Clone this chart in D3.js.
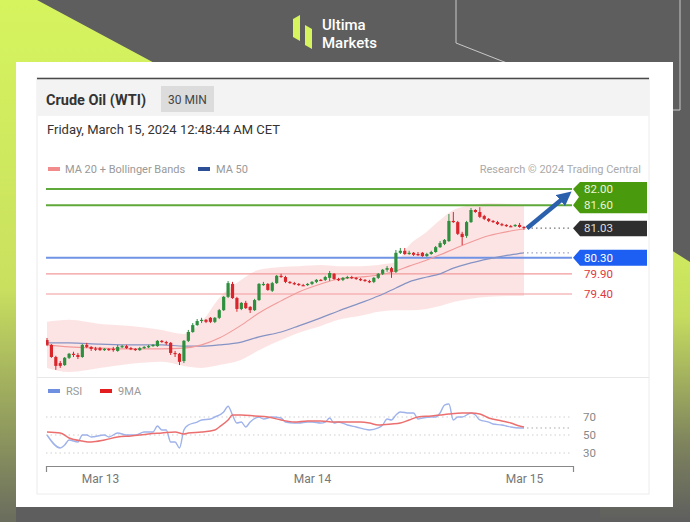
<!DOCTYPE html>
<html><head><meta charset="utf-8">
<script src="https://cdn.jsdelivr.net/npm/d3@7"></script>
<style>
html,body{margin:0;padding:0;background:#5e5e5e;}
svg{display:block;font-family:Roboto,"Liberation Sans",Arial,sans-serif;}
</style></head><body>
<svg id="c" width="690" height="522"></svg>
<script>
// ---------- DATA ----------
const firstCandle = new Date(2024, 2, 12, 18, 0); // 30-min candles
const opens = [
78.26,78.14,77.84,77.69,77.64,77.82,77.92,77.89,77.84,78.14,
78.09,78.05,78.06,78.01,78.04,78.04,77.99,78.09,78.11,78.06,
78.04,78.01,78.06,78.09,78.11,78.11,78.24,78.21,78.19,77.94,
77.92,77.74,78.24,78.46,78.63,78.73,78.76,78.81,78.71,78.81,
79.00,79.33,79.65,79.30,79.03,79.18,79.08,79.00,79.25,79.62,
79.65,79.48,79.67,79.85,79.82,79.70,79.67,79.65,79.62,79.62,
79.65,79.70,79.75,79.75,79.80,79.90,79.77,79.75,79.80,79.82,
79.80,79.77,79.75,79.72,79.70,79.80,79.90,80.00,80.04,79.95,
80.42,80.47,80.39,80.42,80.39,80.42,80.34,80.39,80.44,80.56,
80.64,80.71,81.21,81.18,80.89,80.84,81.18,81.48,81.43,81.33,
81.26,81.21,81.18,81.13,81.11,81.08,81.08,81.11,81.06];
const closes = [
78.14,77.84,77.62,77.62,77.82,77.92,77.89,77.84,78.14,78.09,
78.04,78.03,78.01,78.04,78.01,78.01,78.09,78.11,78.06,78.04,
78.03,78.06,78.09,78.11,78.14,78.24,78.21,78.19,77.94,77.92,
77.72,78.24,78.46,78.63,78.73,78.76,78.71,78.71,78.81,79.00,
79.33,79.67,79.30,79.03,79.18,79.05,79.00,79.25,79.65,79.65,
79.50,79.67,79.85,79.82,79.70,79.67,79.65,79.62,79.61,79.65,
79.70,79.75,79.74,79.82,79.92,79.77,79.75,79.80,79.82,79.80,
79.77,79.75,79.72,79.70,79.80,79.90,80.00,80.04,79.95,80.42,
80.47,80.39,80.42,80.37,80.38,80.34,80.39,80.44,80.56,80.66,
80.74,81.21,81.18,80.89,80.81,81.18,81.48,81.43,81.31,81.26,
81.21,81.18,81.13,81.11,81.08,81.07,81.11,81.06,81.03];
const highs = [
78.31,78.16,77.87,77.74,77.84,77.94,77.97,77.94,78.16,78.19,
78.11,78.09,78.09,78.06,78.06,78.09,78.14,78.14,78.14,78.09,
78.06,78.09,78.11,78.14,78.16,78.26,78.26,78.24,78.21,77.99,
77.94,78.26,78.51,78.68,78.78,78.81,78.78,78.83,78.83,79.03,
79.35,79.72,79.70,79.33,79.20,79.23,79.10,79.28,79.67,79.70,
79.67,79.70,79.87,79.90,79.85,79.72,79.70,79.67,79.65,79.67,
79.72,79.77,79.77,79.85,79.97,79.92,79.80,79.82,79.85,79.85,
79.82,79.80,79.77,79.75,79.82,79.92,80.02,80.09,80.07,80.49,
80.54,80.54,80.47,80.44,80.44,80.44,80.42,80.47,80.59,80.71,
80.76,81.38,81.43,81.21,80.94,81.21,81.53,81.50,81.55,81.36,
81.28,81.23,81.21,81.16,81.13,81.11,81.13,81.16,81.08];
const lows = [
78.11,77.82,77.52,77.57,77.62,77.79,77.84,77.79,77.82,78.06,
77.99,77.99,77.99,77.99,77.99,77.97,77.97,78.06,78.04,78.01,
77.99,77.99,78.04,78.06,78.09,78.09,78.19,78.14,77.89,77.84,
77.64,77.69,78.21,78.44,78.61,78.68,78.68,78.68,78.68,78.78,
78.98,79.30,79.28,78.96,79.00,79.03,78.93,78.98,79.23,79.60,
79.48,79.45,79.65,79.80,79.67,79.65,79.62,79.60,79.60,79.60,
79.62,79.67,79.72,79.72,79.72,79.75,79.72,79.72,79.77,79.77,
79.75,79.72,79.70,79.67,79.67,79.77,79.87,79.95,79.80,79.92,
80.39,80.37,80.37,80.34,80.34,80.32,80.32,80.37,80.42,80.54,
80.61,80.69,81.16,80.86,80.61,80.79,81.16,81.41,81.28,81.23,
81.18,81.16,81.11,81.08,81.06,81.06,81.06,81.04,80.99];

// overlay indicators sampled at candle indices
const bandIdx = [0,5,12,19,26,31,35,39,44,48,53,57,62,66,71,75,79,82,86,89,92,96,100,105,108];
const bbUpper = [78.71,78.76,78.66,78.61,78.51,78.41,78.71,79.30,79.75,80.00,80.07,80.09,80.12,80.09,80.09,80.12,80.19,80.61,80.94,81.23,81.48,81.60,81.65,81.63,81.58];
const bbLower = [77.57,77.47,77.57,77.67,77.72,77.62,77.57,77.64,77.77,78.01,78.26,78.44,78.61,78.76,78.86,78.96,79.00,79.00,79.03,79.10,79.20,79.28,79.33,79.35,79.35];
const ma20 = [78.14,78.09,78.06,78.04,78.04,78.06,78.14,78.31,78.63,78.93,79.23,79.45,79.65,79.77,79.82,79.87,79.97,80.09,80.24,80.37,80.51,80.69,80.84,80.96,81.01];
const ma50 = [78.19,78.19,78.16,78.14,78.14,78.11,78.11,78.14,78.21,78.34,78.46,78.61,78.81,78.98,79.18,79.35,79.55,79.70,79.82,79.90,80.04,80.17,80.27,80.37,80.42];

// RSI panel
const rsiIdx = [0,3,4,5,7,8,9,10,13,14,16,18,20,22,24,25,26,27,28,29,30,31,32,34,35,37,38,40,41,42,43,44,45,46,48,49,51,53,54,56,57,59,60,62,63,64,65,66,68,70,73,75,76,77,78,79,80,82,83,84,85,87,88,89,90,91,92,93,94,96,97,98,100,101,103,104,105,107,108];
const rsi = [50,35.6,38.9,44.4,42.2,50,50,47.8,50,47.8,52.2,50,50,53.3,53.3,60,55.6,55.6,42.2,42.2,35.6,55.6,61.1,64.4,66.7,67.8,70,75.6,82,72.2,63.3,64.4,58.9,64.4,70,67.8,70,68.9,64.4,63.3,63.3,64.4,64.4,63.3,64.4,68.9,63.3,64.4,61.1,58.9,55.6,57.8,61.1,67.8,66.7,72.2,75.6,74.4,74.4,67.8,68.9,70,70,74.4,83.3,84.4,66.7,70,70,74.4,72.2,66.7,64.4,62.2,61.1,60,58.9,57.8,57.8];
const maIdx = [0,3,5,8,10,13,16,19,23,26,29,31,32,35,38,39,41,42,44,47,50,53,56,59,62,65,68,71,73,75,78,80,82,84,87,89,91,94,96,98,100,103,105,107,108];
const rsiMA = [53.3,52.2,46.7,43.3,42.2,44.4,47.8,48.9,51.1,52.2,53.3,51.1,52.2,53.3,55.6,58.9,66.7,72.2,72.2,71.1,70,66.7,64.4,65.6,65.6,64.4,64.4,64.4,63.3,61.1,62.2,63.3,66.7,70,71.1,72.2,73.3,74.4,74.4,73.3,68.9,65.6,63.3,60,58.9];

// levels
const resistLevels = [82.00, 81.60];
const supportLevels = [79.90, 79.40];
const pivotLevel = 80.30;
const lastPrice = 81.03;
const rsiTicks = [70, 50, 30];
const dayTicks = [new Date(2024,2,13), new Date(2024,2,14), new Date(2024,2,15)];
const arrowTarget = 82.00;

// ---------- DRAW ----------
const svg = d3.select('#c');
const defs = svg.append('defs');
const gR = defs.append('linearGradient').attr('id','gR').attr('x1',0).attr('y1',0).attr('x2',0).attr('y2',1);
gR.append('stop').attr('offset','0%').attr('stop-color','#d6f45e');
gR.append('stop').attr('offset','35%').attr('stop-color','#c5dc5f');
gR.append('stop').attr('offset','75%').attr('stop-color','#7f845d');
gR.append('stop').attr('offset','100%').attr('stop-color','#5e5e5e');
const gL = defs.append('linearGradient').attr('id','gL').attr('x1',0).attr('y1',0).attr('x2',0).attr('y2',1);
gL.append('stop').attr('offset','0%').attr('stop-color','#d6f45e');
gL.append('stop').attr('offset','55%').attr('stop-color','#c9e05f');
gL.append('stop').attr('offset','100%').attr('stop-color','#6a6c5d');

svg.append('rect').attr('width',690).attr('height',522).attr('fill','#5e5e5e');
svg.append('polygon').attr('points','0,0 37,0 160,66 16,66 16,522 0,522').attr('fill','url(#gL)');
svg.append('polygon').attr('points','600,205 690,262 690,522 600,522').attr('fill','url(#gR)');
// decorative outlines
svg.append('polyline').attr('points','456,0 456,43 540,76').attr('fill','none').attr('stroke','#c8c8c8').attr('stroke-width',1);
svg.append('polyline').attr('points','680,0 680,110 672,110').attr('fill','none').attr('stroke','#c8c8c8').attr('stroke-width',1);

// logo
const logo = svg.append('g');
logo.append('polygon').attr('points','293,19 300,15 300,41 293,37').attr('fill','#d6f45e');
logo.append('polygon').attr('points','305,25 312,29 312,49 305,45').attr('fill','#d6f45e');
logo.append('text').attr('x',322).attr('y',30).attr('fill','#fff').attr('font-size',15).attr('font-weight',500).text('Ultima');
logo.append('text').attr('x',322).attr('y',48).attr('fill','#fff').attr('font-size',15).attr('font-weight',500).text('Markets');

// white panel & card
svg.append('rect').attr('x',16).attr('y',62).attr('width',657).attr('height',445).attr('fill','#fff');
svg.append('rect').attr('x',37).attr('y',78).attr('width',612).attr('height',416).attr('fill','#fff').attr('stroke','#ececec');
svg.append('rect').attr('x',37).attr('y',79).attr('width',612).attr('height',37).attr('fill','#f3f3f3');
svg.append('line').attr('x1',37).attr('x2',649).attr('y1',78.5).attr('y2',78.5).attr('stroke','#4a4a4a').attr('stroke-width',1.5);
svg.append('text').attr('x',46).attr('y',105).attr('font-size',14.5).attr('font-weight',700).attr('fill','#333').text('Crude Oil (WTI)');
svg.append('rect').attr('x',161).attr('y',86).attr('width',53).attr('height',26).attr('fill','#dcdcdc');
svg.append('text').attr('x',187.5).attr('y',104).attr('text-anchor','middle').attr('font-size',12).attr('fill','#444').text('30 MIN');
svg.append('text').attr('x',47).attr('y',134).attr('font-size',13).attr('fill','#333').text('Friday, March 15, 2024 12:48:44 AM CET');

// legend
svg.append('rect').attr('x',48).attr('y',167).attr('width',12).attr('height',4).attr('fill','#f28b8b');
svg.append('text').attr('x',65).attr('y',173).attr('font-size',11).attr('fill','#999').text('MA 20 + Bollinger Bands');
svg.append('rect').attr('x',198).attr('y',167).attr('width',12).attr('height',4).attr('fill','#2d4f96');
svg.append('text').attr('x',216).attr('y',173).attr('font-size',11).attr('fill','#999').text('MA 50');
svg.append('text').attr('x',641).attr('y',173).attr('text-anchor','end').attr('font-size',11).attr('fill','#aaa').text('Research \u00a9 2024 Trading Central');

// separator main / rsi
svg.append('line').attr('x1',37).attr('x2',649).attr('y1',377.5).attr('y2',377.5).attr('stroke','#e8e8e8');

// scales
const tAt = i => d3.timeMinute.offset(firstCandle, 30*i);
const x = d3.scaleTime().domain([new Date(2024,2,13), new Date(2024,2,15)]).range([100,524]);
const y = d3.scaleLinear().domain([79.40, 82.00]).range([294, 189]);
const yr = d3.scaleLinear().domain([30,70]).range([453,417]);
const X0 = 46, X1 = 572;

defs.append('clipPath').attr('id','clipMain').append('rect').attr('x',X0).attr('y',150).attr('width',X1-X0).attr('height',226);
const main = svg.append('g').attr('clip-path','url(#clipMain)');

// bollinger band
const bandData = bandIdx.map((k,j)=>({t:tAt(k), u:bbUpper[j], l:bbLower[j], m20:ma20[j], m50:ma50[j]}));
main.append('path').datum(bandData)
  .attr('d', d3.area().curve(d3.curveMonotoneX).x(d=>x(d.t)).y0(d=>y(d.l)).y1(d=>y(d.u)))
  .attr('fill','#f7b3b3').attr('fill-opacity',0.36);

// level lines
resistLevels.forEach(v=>{
  main.append('line').attr('x1',X0).attr('x2',X1).attr('y1',y(v)).attr('y2',y(v)).attr('stroke','#5fa83a').attr('stroke-width',2);
});
main.append('line').attr('x1',X0).attr('x2',X1).attr('y1',y(pivotLevel)).attr('y2',y(pivotLevel)).attr('stroke','#7193e6').attr('stroke-width',2);
supportLevels.forEach(v=>{
  main.append('line').attr('x1',X0).attr('x2',X1).attr('y1',y(v)).attr('y2',y(v)).attr('stroke','#f29a9a').attr('stroke-width',1.2);
});

// MAs
main.append('path').datum(bandData).attr('d', d3.line().curve(d3.curveMonotoneX).x(d=>x(d.t)).y(d=>y(d.m50)))
  .attr('fill','none').attr('stroke','#8593c4').attr('stroke-width',1.2);
main.append('path').datum(bandData).attr('d', d3.line().curve(d3.curveMonotoneX).x(d=>x(d.t)).y(d=>y(d.m20)))
  .attr('fill','none').attr('stroke','#f29a9a').attr('stroke-width',1.1);

// candles
const candles = opens.map((o,i)=>({t:tAt(i), o, c:closes[i], h:highs[i], l:lows[i]}));
const cg = main.append('g');
candles.forEach(d=>{
  const up = d.c >= d.o;
  const col = up ? '#2e8f3e' : '#d9262c';
  const cx = x(d.t);
  cg.append('line').attr('x1',cx).attr('x2',cx).attr('y1',y(d.h)).attr('y2',y(d.l)).attr('stroke',col).attr('stroke-width',1);
  const top = y(Math.max(d.o,d.c)), bot = y(Math.min(d.o,d.c));
  cg.append('rect').attr('x',cx-1.6).attr('width',3.2).attr('y',top).attr('height',Math.max(1.2,bot-top)).attr('fill',col);
});

// dotted extensions
const lastX = x(candles[candles.length-1].t);
svg.append('line').attr('x1',lastX+3).attr('x2',X1).attr('y1',y(lastPrice)).attr('y2',y(lastPrice))
  .attr('stroke','#777').attr('stroke-dasharray','1.5,3').attr('stroke-width',1.2);
svg.append('line').attr('x1',lastX+3).attr('x2',X1).attr('y1',y(ma50[ma50.length-1])).attr('y2',y(ma50[ma50.length-1]))
  .attr('stroke','#9aa5c8').attr('stroke-dasharray','1.5,3').attr('stroke-width',1.2);

// arrow
defs.append('marker').attr('id','ah').attr('viewBox','0 0 10 10').attr('refX',5).attr('refY',5)
  .attr('markerWidth',3.2).attr('markerHeight',3.2).attr('orient','auto')
  .append('path').attr('d','M0,0L10,5L0,10z').attr('fill','#2b60ad');
svg.append('line').attr('x1',lastX+3).attr('y1',y(lastPrice)).attr('x2',566).attr('y2',y(arrowTarget)+7)
  .attr('stroke','#2b60ad').attr('stroke-width',4.5).attr('marker-end','url(#ah)');

// price label boxes
const LX = 573, RX = 647;
function tagPath(y1,y2,tips){
  let p = `M${LX+7},${y1} L${RX},${y1} L${RX},${y2} L${LX+7},${y2}`;
  const rev = tips.slice().reverse();
  rev.forEach((t,k)=>{ p += ` L${LX},${t}`; if(k<rev.length-1){ p += ` L${LX+6},${(t+rev[k+1])/2}`; } });
  return p + 'Z';
}
const g1 = y(resistLevels[0]), g2 = y(resistLevels[1]);
svg.append('path').attr('d', tagPath(g1-7, g2+8, [g1,g2])).attr('fill','#4a9a0e');
resistLevels.forEach(v=>{
  svg.append('text').attr('x',584).attr('y',y(v)+4).attr('font-size',11.5).attr('fill','#e8f5dc').text(v.toFixed(2));
});
const ly = y(lastPrice);
svg.append('path').attr('d', tagPath(ly-7.5, ly+8, [ly])).attr('fill','#2e2e2e');
svg.append('text').attr('x',584).attr('y',ly+4).attr('font-size',11.5).attr('fill','#ddd').text(lastPrice.toFixed(2));
const py = y(pivotLevel);
svg.append('path').attr('d', tagPath(py-8, py+8, [py])).attr('fill','#1d5ff2');
svg.append('text').attr('x',584).attr('y',py+4).attr('font-size',11.5).attr('fill','#fff').text(pivotLevel.toFixed(2));
supportLevels.forEach(v=>{
  svg.append('text').attr('x',584).attr('y',y(v)+4).attr('font-size',11.5).attr('fill','#e0393e').text(v.toFixed(2));
});

// ---------- RSI panel ----------
svg.append('rect').attr('x',48).attr('y',389).attr('width',12).attr('height',4).attr('fill','#6f8fe0');
svg.append('text').attr('x',66).attr('y',395).attr('font-size',11).attr('fill','#999').text('RSI');
svg.append('rect').attr('x',100).attr('y',389).attr('width',12).attr('height',4).attr('fill','#e41e1e');
svg.append('text').attr('x',118).attr('y',395).attr('font-size',11).attr('fill','#999').text('9MA');

rsiTicks.forEach(v=>{
  svg.append('line').attr('x1',X0).attr('x2',X1).attr('y1',yr(v)).attr('y2',yr(v))
    .attr('stroke','#cfcfcf').attr('stroke-dasharray','1.5,3');
  svg.append('text').attr('x',583).attr('y',yr(v)+4).attr('font-size',11.5).attr('fill','#888').text(v);
});
const rsiData = rsiIdx.map((k,j)=>({t:tAt(k), v:rsi[j]}));
const maData = maIdx.map((k,j)=>({t:tAt(k), v:rsiMA[j]}));
svg.append('line').attr('x1',lastX+3).attr('x2',X1).attr('y1',yr(rsi[rsi.length-1])).attr('y2',yr(rsi[rsi.length-1]))
  .attr('stroke','#aaa').attr('stroke-dasharray','1.5,3');
svg.append('path').datum(rsiData).attr('d', d3.line().curve(d3.curveMonotoneX).x(d=>x(d.t)).y(d=>yr(d.v)))
  .attr('fill','none').attr('stroke','#9fb3ea').attr('stroke-width',1.4);
svg.append('path').datum(maData).attr('d', d3.line().curve(d3.curveMonotoneX).x(d=>x(d.t)).y(d=>yr(d.v)))
  .attr('fill','none').attr('stroke','#ec6f6f').attr('stroke-width',1.5);

// x axis
const xa = x.copy().domain([x.invert(X0), x.invert(X1+1)]).range([X0, X1+1]);
const ax = svg.append('g').attr('transform','translate(0,466)')
  .call(d3.axisBottom(xa).tickValues(dayTicks).tickFormat(d3.timeFormat('%b %-d')).tickSizeInner(0).tickSizeOuter(6).tickPadding(8));
ax.select('.domain').attr('stroke','#888').attr('stroke-width',1.2);
ax.selectAll('text').attr('font-size',12).attr('fill','#777').attr('font-family','Roboto,"Liberation Sans",Arial,sans-serif');
</script>
</body></html>
